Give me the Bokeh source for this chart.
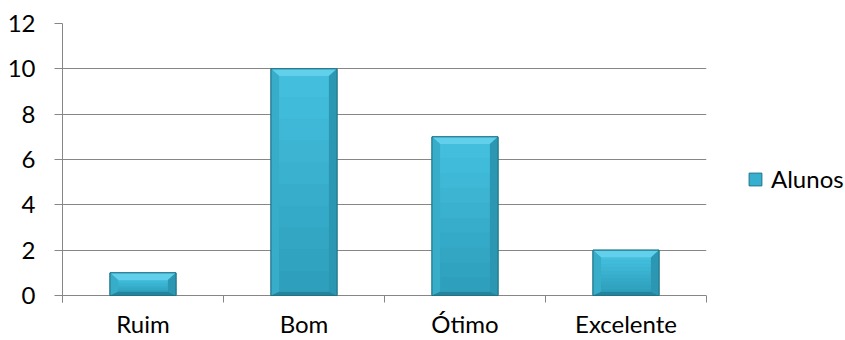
import numpy as np
from bokeh.plotting import figure
from bokeh.layouts import row
from bokeh.models import (FixedTicker, Range1d, Legend, LegendItem)
from bokeh.embed import file_html
from bokeh.resources import INLINE

# ---- data ----
categories = ["Ruim", "Bom", "Ótimo", "Excelente"]
alunos = [1, 10, 7, 2]
y_ticks = [0, 2, 4, 6, 8, 10, 12]
series_name = "Alunos"

FONT = "Lato"
FS = "24px"
AX = "#868686"

MAIN_W = 720
Y_MAX = 12
TICK_PX = 7
PLOT_PX_PER_UNIT = (295 - 23) / Y_MAX
y_min = -TICK_PX / PLOT_PX_PER_UNIT   # room under zero for the category ticks

p = figure(width=MAIN_W, height=340, output_backend="svg", toolbar_location=None,
           x_range=Range1d(0, len(categories)), y_range=Range1d(y_min, Y_MAX),
           min_border_left=62, min_border_right=MAIN_W - 706, min_border_top=23,
           min_border_bottom=38)
p.outline_line_color = None
p.background_fill_color = "white"
p.border_fill_color = "white"

xs = np.arange(len(categories)) + 0.5
vals = np.array(alunos, dtype=float)
W = 0.41
bx = 0.05   # horizontal bevel (category units)
by = 0.32   # top bevel (data units)
bb = 0.16   # bottom bevel

left = xs - W / 2
right = xs + W / 2

BAR_KW = dict(fill_color="#36B0CE", line_color="#1E7488", line_width=1)
base = p.vbar(x=xs, top=vals, bottom=0, width=W, **BAR_KW)

# face gradient bands
n = 10
c_top = np.array([0x44, 0xC0, 0xDF])
c_bot = np.array([0x2D, 0x9E, 0xBB])
for i in range(n):
    f0 = i / n
    f1 = (i + 1) / n
    col = c_top + (c_bot - c_top) * (i + 0.5) / n
    hexc = "#%02x%02x%02x" % tuple(int(round(c)) for c in col)
    ftop = vals - by
    fbot = np.full_like(vals, bb)
    t = ftop - (ftop - fbot) * f0
    b = ftop - (ftop - fbot) * f1
    p.quad(left=left + bx, right=right - bx, top=t, bottom=b,
           fill_color=hexc, line_color=None)

# top bevel
top_xs = [[l, r, r - bx, l + bx] for l, r in zip(left, right)]
top_ys = [[v, v, v - by, v - by] for v in vals]
p.patches(top_xs, top_ys, fill_color="#62D0EA", line_color=None)
# left bevel
l_xs = [[l, l + bx, l + bx, l] for l in left]
l_ys = [[v, v - by, bb, 0] for v in vals]
p.patches(l_xs, l_ys, fill_color="#37ADCA", line_color=None)
# right bevel
r_xs = [[r, r - bx, r - bx, r] for r in right]
p.patches(r_xs, l_ys, fill_color="#2B97B3", line_color=None)
# bottom bevel
b_xs = [[l, r, r - bx, l + bx] for l, r in zip(left, right)]
b_ys = [[0, 0, bb, bb] for v in vals]
p.patches(b_xs, b_ys, fill_color="#25839B", line_color=None)
# outline
p.quad(left=left, right=right, top=vals, bottom=0, fill_color=None,
       line_color="#1E7488", line_width=1)

# grid (the zero line doubles as the category axis line)
p.xgrid.grid_line_color = None
p.ygrid.grid_line_color = AX
p.ygrid.grid_line_width = 1
p.ygrid.ticker = FixedTicker(ticks=y_ticks)

# y axis
ya = p.yaxis[0]
ya.ticker = FixedTicker(ticks=y_ticks)
ya.axis_line_color = AX
ya.major_tick_line_color = AX
ya.major_tick_out = 8
ya.major_tick_in = 0
ya.minor_tick_line_color = None
ya.major_label_standoff = 19
ya.major_label_text_font = FONT
ya.major_label_text_font_size = FS
ya.major_label_text_color = "black"

# x axis (ticks drawn upward from the frame bottom to the zero line)
xa = p.xaxis[0]
xa.ticker = FixedTicker(ticks=list(xs), minor_ticks=list(range(len(categories) + 1)))
xa.major_label_overrides = {float(x): c for x, c in zip(xs, categories)}
xa.axis_line_color = None
xa.major_tick_line_color = None
xa.major_tick_out = 0
xa.major_tick_in = 0
xa.minor_tick_line_color = AX
xa.minor_tick_out = 0
xa.minor_tick_in = TICK_PX
xa.major_label_standoff = 6
xa.major_label_text_font = FONT
xa.major_label_text_font_size = FS
xa.major_label_text_color = "black"

# legend panel (separate figure to the right)
LEG_W = 845 - MAIN_W
lf = figure(width=LEG_W, height=340, output_backend="svg", toolbar_location=None,
            x_range=Range1d(0, 1), y_range=Range1d(0, 1),
            x_axis_location=None, y_axis_location=None,
            min_border_left=0, min_border_right=0, min_border_top=0,
            min_border_bottom=0)
lf.grid.visible = False
lf.outline_line_color = None
lf.background_fill_color = "white"
lf.border_fill_color = "white"
dummy = lf.vbar(x=[5], top=[5], width=0.1, **BAR_KW)

legend = Legend(items=[LegendItem(label=series_name, renderers=[dummy])],
                location=(747 - MAIN_W, 109), padding=0, margin=0, spacing=0,
                glyph_width=16, glyph_height=16, label_height=16,
                label_standoff=8, border_line_color=None,
                background_fill_alpha=0,
                label_text_font=FONT, label_text_font_size=FS,
                label_text_color="black")
lf.add_layout(legend, "center")

layout = row(p, lf, spacing=0)
open("out.html", "w").write(file_html(layout, INLINE))
